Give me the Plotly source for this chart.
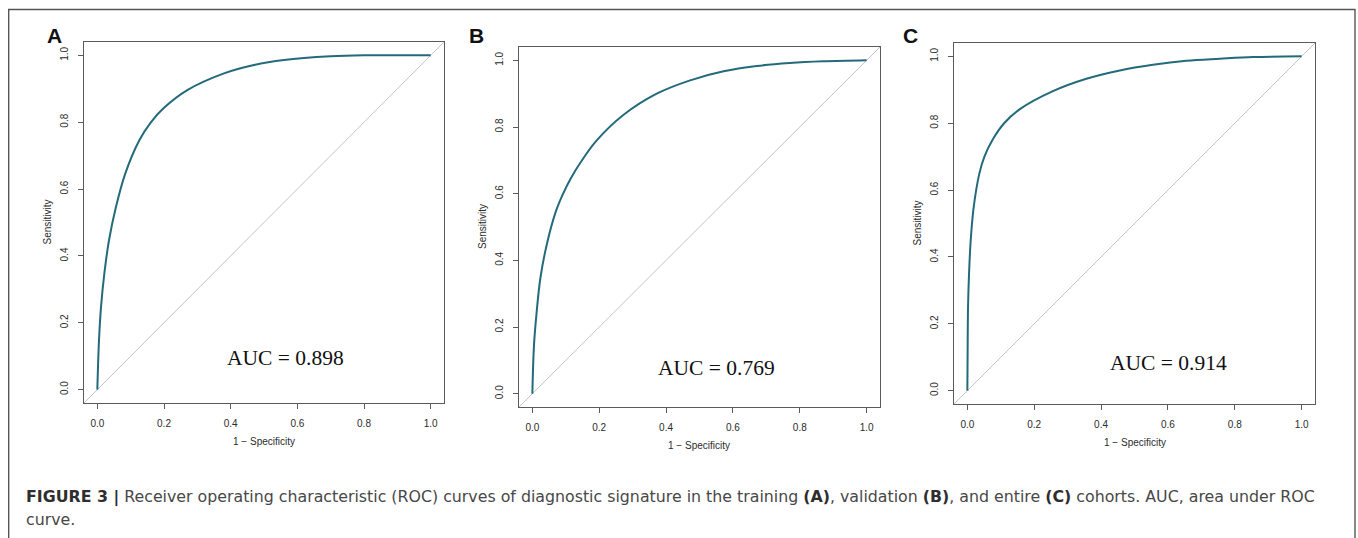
import plotly.graph_objects as go

W, H = 1358, 538

# ---- data ----
fpr_a = [0, 0.005, 0.011, 0.021, 0.035, 0.056, 0.084, 0.126, 0.16, 0.2, 0.27, 0.38, 0.47, 0.56, 0.7, 0.8, 1.0]
tpr_a = [0, 0.148, 0.247, 0.347, 0.447, 0.547, 0.647, 0.746, 0.799, 0.843, 0.896, 0.946, 0.971, 0.986, 0.997, 1.0, 1.0]

fpr_b = [0, 0.005, 0.013, 0.024, 0.043, 0.07, 0.091, 0.116, 0.147, 0.19, 0.272, 0.372, 0.472, 0.572, 0.671, 0.77, 0.87, 1.0]
tpr_b = [0, 0.148, 0.247, 0.347, 0.447, 0.546, 0.598, 0.648, 0.698, 0.757, 0.836, 0.90, 0.94, 0.967, 0.983, 0.992, 0.997, 1.0]

fpr_c = [0, 0.001, 0.002, 0.005, 0.01, 0.019, 0.036, 0.051, 0.075, 0.11, 0.157, 0.256, 0.356, 0.456, 0.555, 0.655, 0.755, 0.855, 1.0]
tpr_c = [0, 0.151, 0.25, 0.35, 0.45, 0.55, 0.65, 0.70, 0.75, 0.80, 0.842, 0.896, 0.933, 0.958, 0.975, 0.987, 0.993, 0.998, 1.0]

panel_letters = ["A", "B", "C"]
auc_labels = ["AUC = 0.898", "AUC = 0.769", "AUC = 0.914"]
tick_vals = [0.0, 0.2, 0.4, 0.6, 0.8, 1.0]
tick_text = ["0.0", "0.2", "0.4", "0.6", "0.8", "1.0"]
x_title = "1 \u2212 Specificity"
y_title = "Sensitivity"
caption_line1 = ("<b style='color:#2e2e2e'>FIGURE 3 |</b> Receiver operating characteristic (ROC) curves of diagnostic signature "
                 "in the training <b style='color:#2e2e2e'>(A)</b>, validation <b style='color:#2e2e2e'>(B)</b>, "
                 "and entire <b style='color:#2e2e2e'>(C)</b> cohorts. AUC, area under ROC")
caption_line2 = "curve."

# ---- layout geometry (window pixels) ----
boxes = [  # left, right, top, bottom
    (84, 444, 42, 403),
    (519, 880, 47, 407),
    (954, 1315, 43, 404),
]
auc_pos = [(0.563, 0.094), (0.551, 0.076), (0.601, 0.083)]
letter_pos = [(45, 35), (467, 35), (901, 35)]

CURVE = "#236a7b"
FRAME = "#5a5a5a"
TXT = "#2b2b2b"
RNG = [-0.04, 1.04]

def px(x):
    return x / W

def py(y):
    return 1 - y / H

fig = go.Figure()
series = [(fpr_a, tpr_a), (fpr_b, tpr_b), (fpr_c, tpr_c)]

for i, ((fx, ty), (l, r, t, b)) in enumerate(zip(series, boxes)):
    n = "" if i == 0 else str(i + 1)
    xa, ya = "x" + n, "y" + n
    fig.add_trace(go.Scatter(x=RNG, y=RNG, mode="lines", xaxis=xa, yaxis=ya,
                             line=dict(color="#c4c4c4", width=1), hoverinfo="skip", showlegend=False))
    fig.add_trace(go.Scatter(x=fx, y=ty, mode="lines", xaxis=xa, yaxis=ya,
                             line=dict(color=CURVE, width=2, shape="spline", smoothing=1.0),
                             showlegend=False))
    common = dict(range=RNG, showgrid=False, zeroline=False, showline=True, mirror=True,
                  linecolor=FRAME, linewidth=1.3, ticks="outside", ticklen=5, tickwidth=1,
                  tickcolor=FRAME, tickvals=tick_vals, ticktext=tick_text,
                  tickfont=dict(family="Liberation Sans, Arial", size=10, color=TXT))
    fig.layout["xaxis" + n] = dict(common, domain=[px(l), px(r)], anchor=ya, ticklabelstandoff=6)
    fig.layout["yaxis" + n] = dict(common, domain=[py(b), py(t)], anchor=xa, tickangle=-90,
                                   ticklabelstandoff=6)
    ax, ay = auc_pos[i]
    fig.add_annotation(x=ax, y=ay, xref=xa, yref=ya, text=auc_labels[i], showarrow=False,
                       font=dict(family="Liberation Serif, Times New Roman", size=21.5, color="#111"))
    fig.add_annotation(x=px(l + (0.04 + 0.5) * (r - l) / 1.08), y=py(b + 38), xref="paper", yref="paper",
                       text=x_title, showarrow=False, xanchor="center", yanchor="middle",
                       font=dict(family="Liberation Sans, Arial", size=10, color=TXT))
    fig.add_annotation(x=px(l - 37), y=py(b - (0.04 + 0.5) * (b - t) / 1.08), xref="paper", yref="paper",
                       text=y_title, showarrow=False, textangle=-90, xanchor="center", yanchor="middle",
                       font=dict(family="Liberation Sans, Arial", size=10, color=TXT))
    lx, ly = letter_pos[i]
    fig.add_annotation(x=px(lx), y=py(ly), xref="paper", yref="paper", text="<b>%s</b>" % panel_letters[i],
                       showarrow=False, xanchor="left", yanchor="middle",
                       font=dict(family="Liberation Sans, Arial", size=21, color="#111"))

cap_font = dict(family="DejaVu Sans, Liberation Sans", size=15.8, color="#474747")
fig.add_annotation(x=px(24), y=py(497), xref="paper", yref="paper", text=caption_line1, showarrow=False,
                   xanchor="left", yanchor="middle", align="left", font=cap_font)
fig.add_annotation(x=px(24), y=py(519), xref="paper", yref="paper", text=caption_line2, showarrow=False,
                   xanchor="left", yanchor="middle", align="left", font=cap_font)

# outer frame (open at the bottom, as in the cropped reference)
fig.add_shape(type="rect", xref="paper", yref="paper", x0=px(8.7), x1=px(1355), y0=-0.2, y1=py(9.5),
              line=dict(color="#555", width=1.4), fillcolor="rgba(0,0,0,0)")

fig.update_layout(width=W, height=H, margin=dict(l=0, r=0, t=0, b=0),
                  paper_bgcolor="white", plot_bgcolor="white", showlegend=False)

# remove the default page margin so the figure fills the window exactly
fig.write_html("out.html", config={"displayModeBar": False},
               post_script="document.body.style.margin='0';document.body.style.overflow='hidden';")
